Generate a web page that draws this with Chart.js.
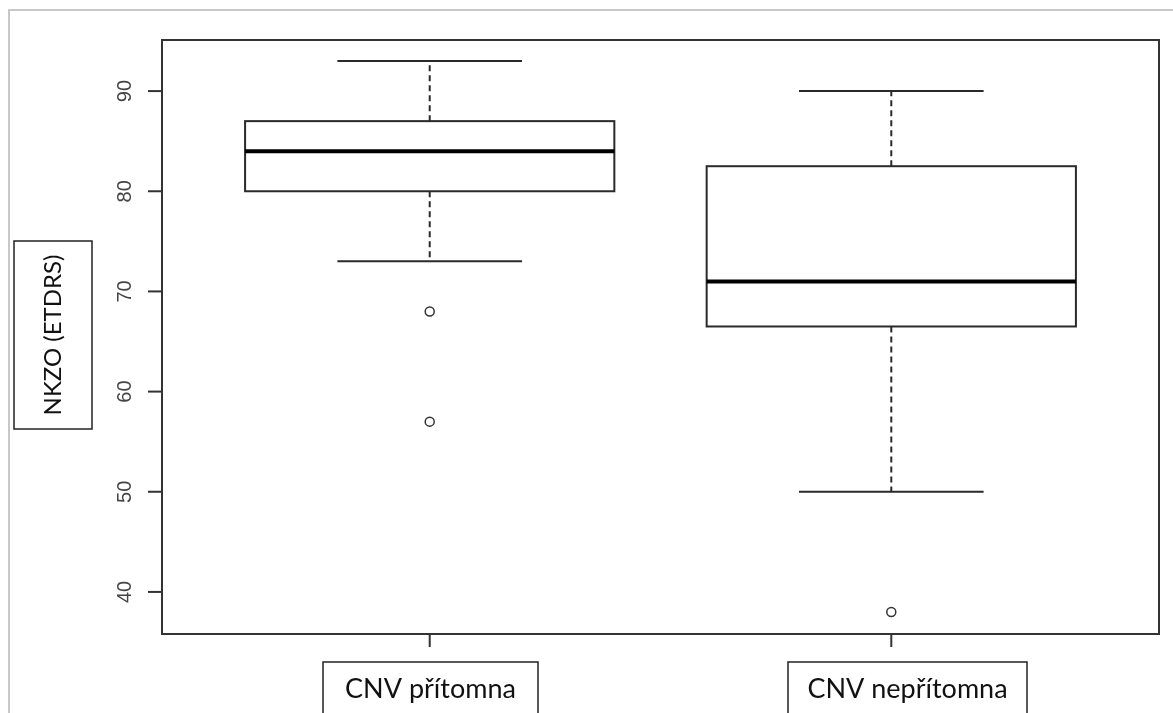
<!DOCTYPE html>
<html>
<head>
<meta charset="utf-8">
<script src="https://cdn.jsdelivr.net/npm/chart.js@4/dist/chart.umd.min.js"></script>
<style>
  html, body { margin: 0; padding: 0; background: #fff; }
  #wrap { width: 1173px; height: 713px; }
</style>
</head>
<body>
<div id="wrap"><canvas id="c"></canvas></div>
<script>
const categories = ['CNV přítomna', 'CNV nepřítomna'];
const whiskerLow = [73, 50];
const q1 = [80, 66.5];
const median = [84, 71];
const q3 = [87, 82.5];
const whiskerHigh = [93, 90];
const outliers = [[68, 57], [38]];
const yTicks = [40, 50, 60, 70, 80, 90];
const yTitle = 'NKZO (ETDRS)';

const boxWidth = 0.8;
// label frames in the original were placed by hand, not centred on ticks
const labelFrames = [[323, 538], [788, 1027]];

const outlierPoints = [];
outliers.forEach((list, i) => list.forEach((v) => outlierPoints.push({ x: i + 1, y: v })));

// R-like boxplot drawing, all positions via chart scales
const boxPlugin = {
  id: 'boxplot',
  beforeDatasetsDraw(chart) {
    const { ctx, scales: { x, y } } = chart;
    ctx.save();

    // light outer frame from the screenshot
    ctx.strokeStyle = '#c8c8c8';
    ctx.lineWidth = 2;
    ctx.beginPath();
    ctx.moveTo(9, 713);
    ctx.lineTo(9, 10);
    ctx.lineTo(1173, 10);
    ctx.stroke();

    categories.forEach((c, i) => {
      const cx = x.getPixelForValue(i + 1);
      const xl = x.getPixelForValue(i + 1 - boxWidth / 2);
      const xr = x.getPixelForValue(i + 1 + boxWidth / 2);
      const capL = x.getPixelForValue(i + 1 - boxWidth / 4);
      const capR = x.getPixelForValue(i + 1 + boxWidth / 4);
      const yq1 = y.getPixelForValue(q1[i]);
      const yq3 = y.getPixelForValue(q3[i]);
      const ymed = y.getPixelForValue(median[i]);
      const ylo = y.getPixelForValue(whiskerLow[i]);
      const yhi = y.getPixelForValue(whiskerHigh[i]);

      ctx.strokeStyle = '#2a2a2a';
      ctx.lineWidth = 2;
      // whiskers (dashed)
      ctx.setLineDash([6, 4]);
      ctx.beginPath();
      ctx.moveTo(cx, yq3);
      ctx.lineTo(cx, yhi);
      ctx.moveTo(cx, yq1);
      ctx.lineTo(cx, ylo);
      ctx.stroke();
      ctx.setLineDash([]);
      // caps
      ctx.beginPath();
      ctx.moveTo(capL, yhi);
      ctx.lineTo(capR, yhi);
      ctx.moveTo(capL, ylo);
      ctx.lineTo(capR, ylo);
      ctx.stroke();
      // box
      ctx.strokeRect(xl, yq3, xr - xl, yq1 - yq3);
      // median
      ctx.strokeStyle = '#000';
      ctx.lineWidth = 4;
      ctx.beginPath();
      ctx.moveTo(xl, ymed);
      ctx.lineTo(xr, ymed);
      ctx.stroke();
    });

    ctx.restore();
  },
  afterDraw(chart) {
    const { ctx, chartArea: a, scales: { x, y } } = chart;
    ctx.save();
    // plot frame
    ctx.strokeStyle = '#333';
    ctx.lineWidth = 2;
    ctx.strokeRect(a.left, a.top, a.right - a.left, a.bottom - a.top);

    // y ticks + rotated labels
    ctx.fillStyle = '#444';
    ctx.font = '20px "Liberation Sans", Arial, sans-serif';
    ctx.textAlign = 'center';
    ctx.textBaseline = 'middle';
    yTicks.forEach((t) => {
      const py = y.getPixelForValue(t);
      ctx.beginPath();
      ctx.moveTo(a.left - 14, py);
      ctx.lineTo(a.left, py);
      ctx.stroke();
      ctx.save();
      ctx.translate(125, py);
      ctx.rotate(-Math.PI / 2);
      ctx.fillText(String(t), 0, 0);
      ctx.restore();
    });

    // x ticks + boxed labels
    ctx.font = '27px Lato, "Open Sans", sans-serif';
    ctx.fillStyle = '#111';
    categories.forEach((c, i) => {
      const px = x.getPixelForValue(i + 1);
      ctx.strokeStyle = '#333';
      ctx.lineWidth = 2;
      ctx.beginPath();
      ctx.moveTo(px, a.bottom);
      ctx.lineTo(px, a.bottom + 13);
      ctx.stroke();
      const [l, r] = labelFrames[i];
      ctx.lineWidth = 1.5;
      ctx.strokeStyle = '#222';
      ctx.strokeRect(l, 662, r - l, 60);
      ctx.fillText(c, (l + r) / 2, 689);
    });

    // boxed y title
    ctx.font = '24px Lato, "Open Sans", sans-serif';
    ctx.strokeRect(14, 241, 78, 188);
    ctx.save();
    ctx.translate(53, 335);
    ctx.rotate(-Math.PI / 2);
    ctx.fillText(yTitle, 0, 0);
    ctx.restore();
    ctx.restore();
  }
};

new Chart(document.getElementById('c'), {
  type: 'scatter',
  data: {
    datasets: [{
      label: 'outliers',
      data: outlierPoints,
      pointStyle: 'circle',
      pointRadius: 4.5,
      pointBorderWidth: 1.5,
      pointBorderColor: '#333',
      pointBackgroundColor: '#fff'
    }]
  },
  options: {
    responsive: true,
    maintainAspectRatio: false,
    animation: false,
    events: [],
    layout: { padding: { left: 162, top: 40, right: 14, bottom: 79 } },
    plugins: { legend: { display: false }, tooltip: { enabled: false } },
    scales: {
      x: { type: 'linear', display: false, min: 0.42, max: 2.58 },
      y: { type: 'linear', display: false, min: 35.8, max: 95.1 }
    }
  },
  plugins: [boxPlugin]
});
</script>
</body>
</html>
